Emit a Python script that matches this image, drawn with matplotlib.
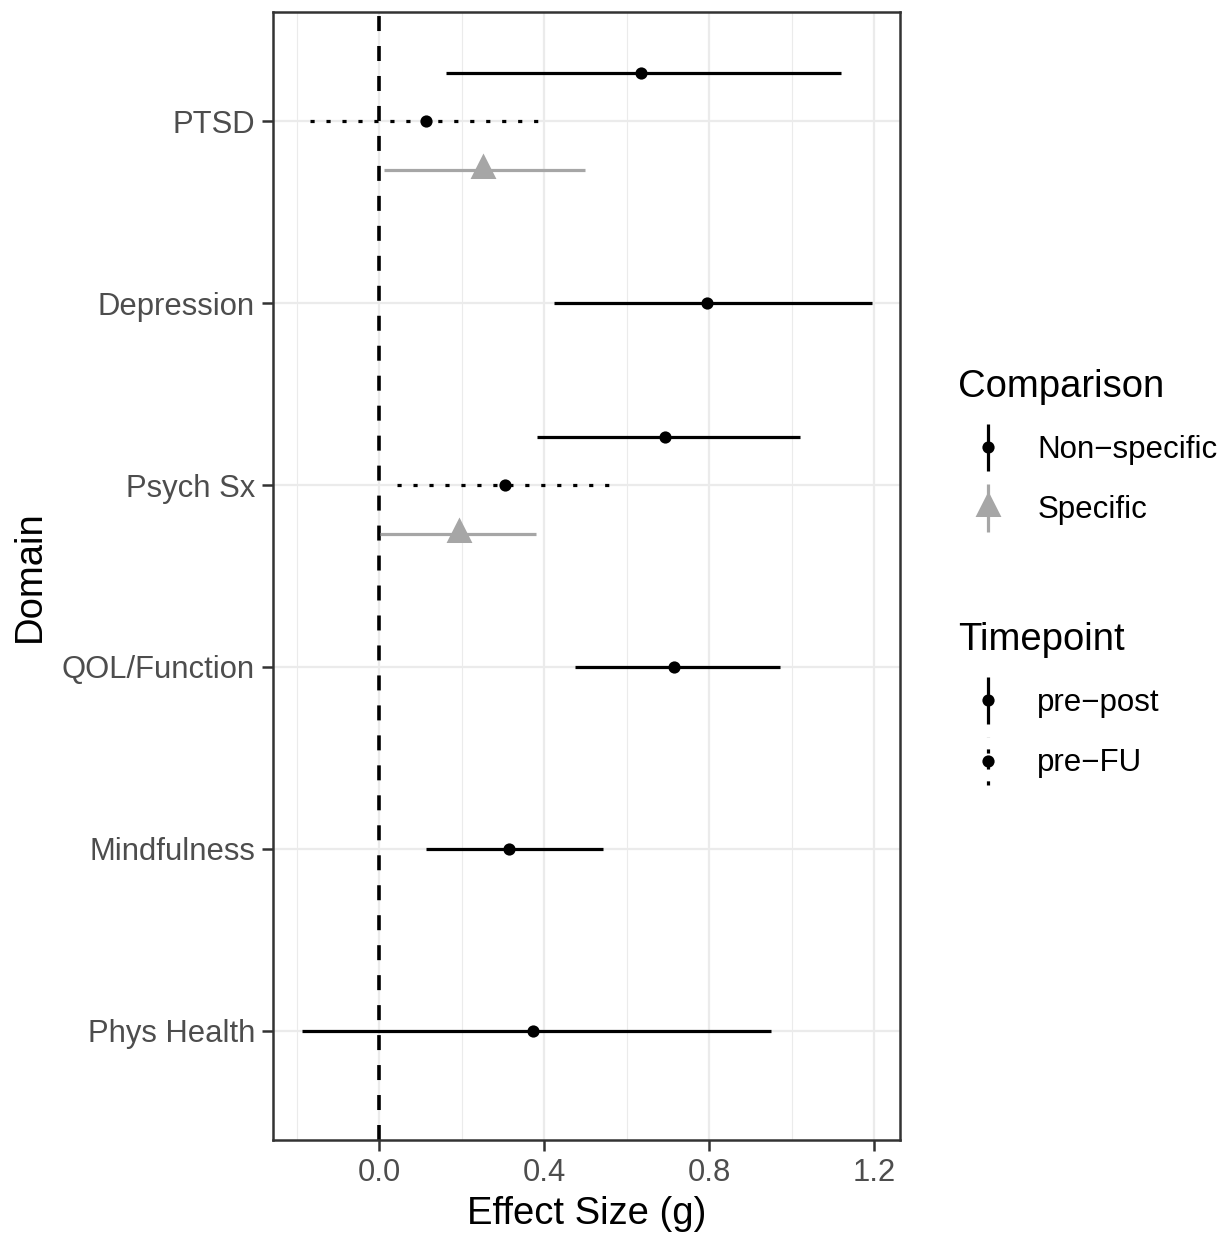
import numpy as np
import matplotlib
matplotlib.use("Agg")
import matplotlib.pyplot as plt
from matplotlib.lines import Line2D
from matplotlib.legend_handler import HandlerBase
from matplotlib.ticker import FixedLocator

plt.rcParams['font.family'] = ['Liberation Sans', 'DejaVu Sans']

# data (top to bottom)
domains = ["PTSD", "Depression", "Psych Sx", "QOL/Function", "Mindfulness", "Phys Health"]
row_domain = ["PTSD", "PTSD", "PTSD", "Depression", "Psych Sx", "Psych Sx", "Psych Sx",
              "QOL/Function", "Mindfulness", "Phys Health"]
row_comparison = ["Non-specific", "Non-specific", "Specific", "Non-specific", "Non-specific",
                  "Non-specific", "Specific", "Non-specific", "Non-specific", "Non-specific"]
row_timepoint = ["pre-post", "pre-FU", "pre-post", "pre-post", "pre-post", "pre-FU",
                 "pre-post", "pre-post", "pre-post", "pre-post"]
effect = [0.633, 0.113, 0.251, 0.793, 0.693, 0.304, 0.192, 0.713, 0.313, 0.373]
ci_low = [0.161, -0.169, 0.010, 0.422, 0.381, 0.042, 0.002, 0.473, 0.112, -0.189]
ci_high = [1.119, 0.385, 0.499, 1.193, 1.020, 0.556, 0.379, 0.970, 0.541, 0.950]

comp_labels = ["Non\u2212specific", "Specific"]
time_labels = ["pre\u2212post", "pre\u2212FU"]

colors = {"Non-specific": "black", "Specific": "#A6A6A6"}
# triangle with its centroid at the anchor point (like R's pch 17)
tri = [(0, 1.0), (-0.76, -0.5), (0.76, -0.5), (0, 1.0)]
markers = {"Non-specific": ("o", 8.8), "Specific": (tri, 24.5)}
dots = (0, (1.3, 3.7))
styles = {"pre-post": "-", "pre-FU": dots}

LW = 2.3

fig = plt.figure(figsize=(12.31, 12.39), dpi=100)
ax = fig.add_axes([273 / 1231, 1 - 1140 / 1239, (900 - 273) / 1231, (1140 - 12) / 1239])

# dodge like position_dodge(width = 0.8)
ypos = []
for d in domains:
    idx = [i for i, rd in enumerate(row_domain) if rd == d]
    n = len(idx)
    offs = (np.arange(n) - (n - 1) / 2) * (0.8 / n)
    for k, i in enumerate(idx):
        ypos.append((i, domains.index(d) + offs[k]))
ypos = dict(ypos)

ax.axvline(0, color="black", lw=2.6, linestyle=(0, (4.15, 4.15)), zorder=2)

for i in range(len(effect)):
    c = colors[row_comparison[i]]
    m, ms = markers[row_comparison[i]]
    y = ypos[i]
    ax.plot([ci_low[i], ci_high[i]], [y, y], color=c, lw=LW,
            linestyle=styles[row_timepoint[i]], solid_capstyle="butt",
            dash_capstyle="butt", zorder=3)
    ax.plot([effect[i]], [y], marker=m, markersize=ms, color=c,
            markeredgewidth=0, linestyle="none", zorder=4)

span = max(ci_high) - min(ci_low)
ax.set_xlim(min(ci_low) - 0.05 * span, max(ci_high) + 0.05 * span)
ax.set_ylim(len(domains) - 1 + 0.6, -0.6)

ax.set_yticks(range(len(domains)))
ax.set_yticklabels(domains)
ax.xaxis.set_major_locator(FixedLocator([0.0, 0.4, 0.8, 1.2]))
ax.xaxis.set_minor_locator(FixedLocator([-0.2, 0.2, 0.6, 1.0]))
ax.set_xticklabels(["0.0", "0.4", "0.8", "1.2"])

ax.grid(which="major", color="#EBEBEB", lw=1.6, zorder=0)
ax.grid(which="minor", axis="x", color="#EBEBEB", lw=0.8, zorder=0)
ax.set_axisbelow(True)

for s in ax.spines.values():
    s.set_color("#333333")
    s.set_linewidth(1.8)
ax.tick_params(which="major", length=8, width=1.8, color="#333333",
               labelsize=22.3, labelcolor="#4D4D4D", pad=5)
ax.tick_params(which="minor", length=0)

ax.set_xlabel("Effect Size (g)", fontsize=27.5, labelpad=6)
ax.set_ylabel("Domain", fontsize=27.5, labelpad=10)


class VKey(HandlerBase):
    # vertical key: line with the point in the middle, like ggplot's flipped pointrange
    def create_artists(self, legend, orig_handle, xdescent, ydescent,
                       width, height, fontsize, trans):
        cx = width / 2 - xdescent
        cy = height / 2 - ydescent
        half = 17
        ln = Line2D([cx, cx], [cy - half, cy + half])
        ln.update_from(orig_handle)
        ln.set_marker("None")
        ln.set_transform(trans)
        mk = Line2D([cx], [cy], marker=orig_handle.get_marker(),
                    markersize=orig_handle.get_markersize(),
                    color=orig_handle.get_color(), markeredgewidth=0,
                    linestyle="none", transform=trans)
        return [ln, mk]


comp_handles = []
for key in ["Non-specific", "Specific"]:
    m, ms = markers[key]
    comp_handles.append(Line2D([], [], color=colors[key], lw=LW, marker=m,
                               markersize=ms, solid_capstyle="butt"))
time_handles = []
for key in ["pre-post", "pre-FU"]:
    time_handles.append(Line2D([], [], color="black", lw=LW, marker="o",
                               markersize=8.8, linestyle=styles[key],
                               solid_capstyle="butt", dash_capstyle="butt"))

leg_kw = dict(loc="upper left", frameon=False, fontsize=22.5, title_fontsize=27.5,
              alignment="left", borderpad=0, borderaxespad=0, handlelength=1.9,
              handleheight=1.4, handletextpad=0.64, labelspacing=0.78,
              handler_map={Line2D: VKey()})
leg1 = fig.legend(comp_handles, comp_labels, title="Comparison",
                  bbox_to_anchor=(958 / 1231, 1 - 369 / 1239), **leg_kw)
leg2 = fig.legend(time_handles, time_labels, title="Timepoint",
                  bbox_to_anchor=(958 / 1231, 1 - 622 / 1239), **leg_kw)

fig.savefig("out.png", dpi=100)
